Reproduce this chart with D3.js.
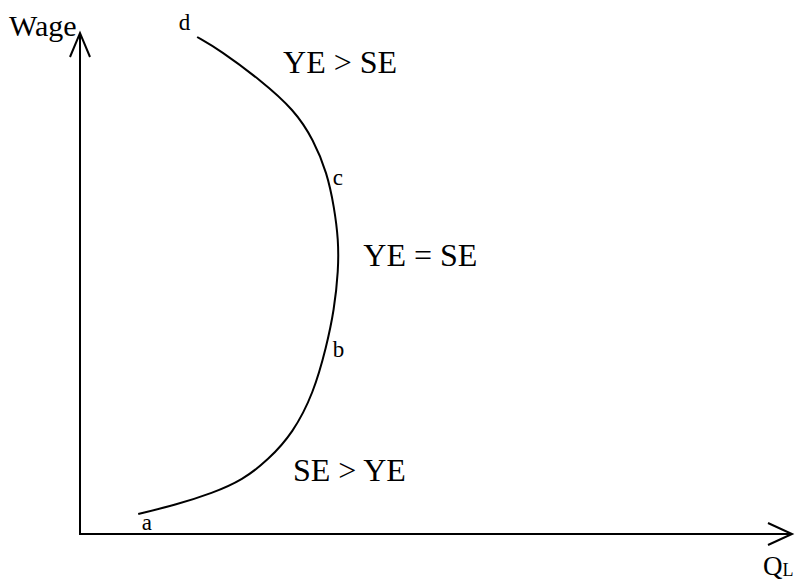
<!DOCTYPE html>
<html>
<head>
<meta charset="utf-8">
<script src="https://cdn.jsdelivr.net/npm/d3@7"></script>
<style>
  body { margin: 0; background: #fff; }
  text { font-family: "Liberation Serif", "Times New Roman", serif; fill: #000; }
</style>
</head>
<body>
<svg id="chart" width="798" height="580"></svg>
<script>
// supply curve (quantity of labour, wage)
var qlVals   = [8.2, 13.4, 18.7, 22.9, 26.5, 30.0, 32.9, 34.7, 35.8, 36.4, 36.4, 35.8, 34.8, 32.9, 30.2, 25.4, 19.7, 16.5];
var wageVals = [4.0, 5.8, 8.2, 10.8, 14.8, 20.2, 28.2, 37.4, 44.8, 52.8, 58.8, 65.4, 72.2, 78.8, 84.8, 90.8, 96.8, 99.4];

// point labels on the curve
var pointNames = ["a", "b", "c", "d"];
var pointQl    = [8.7, 35.6, 35.6, 13.9];
var pointWage  = [0.8, 35.4, 69.8, 100.8];

// region notes
var noteTexts = ["YE > SE", "YE = SE", "SE > YE"];
var noteQl    = [28.6, 39.9, 30.0];
var noteWage  = [92.2, 53.6, 10.6];

var svg = d3.select("#chart");

var x = d3.scaleLinear().domain([0, 100]).range([80, 790]);
var y = d3.scaleLinear().domain([0, 100]).range([534, 34]);

var x0 = x(0), y0 = y(0);

// axes (plain lines with open arrow heads)
var axes = svg.append("g")
    .attr("fill", "none")
    .attr("stroke", "#000")
    .attr("stroke-width", 2);

axes.append("line")
    .attr("x1", x0).attr("y1", y0)
    .attr("x2", x0).attr("y2", y(100) - 1);
axes.append("line")
    .attr("x1", x0 - 1).attr("y1", y0)
    .attr("x2", x(100) + 2).attr("y2", y0);

axes.append("polyline")
    .attr("points", [[x0 - 10, y(100) + 23], [x0, y(100) - 1], [x0 + 10, y(100) + 23]].join(" "));
axes.append("polyline")
    .attr("points", [[x(100) - 22, y0 - 11], [x(100) + 2, y0], [x(100) - 22, y0 + 11]].join(" "));

// axis titles
svg.append("text")
    .attr("x", 9)
    .attr("y", 36)
    .attr("font-size", 30)
    .text("Wage");

var qt = svg.append("text")
    .attr("x", 763)
    .attr("y", 575)
    .attr("font-size", 27);
qt.append("tspan").text("Q");
qt.append("tspan").attr("font-size", 18).attr("dy", 1).text("L");

// the curve
var pts = qlVals.map(function (d, i) { return [d, wageVals[i]]; });

var line = d3.line()
    .x(function (d) { return x(d[0]); })
    .y(function (d) { return y(d[1]); })
    .curve(d3.curveBasis);

svg.append("path")
    .datum(pts)
    .attr("d", line)
    .attr("fill", "none")
    .attr("stroke", "#000")
    .attr("stroke-width", 2);

// labels a..d
svg.selectAll(".pt")
    .data(pointNames)
    .enter().append("text")
    .attr("class", "pt")
    .attr("x", function (d, i) { return x(pointQl[i]); })
    .attr("y", function (d, i) { return y(pointWage[i]); })
    .attr("font-size", 23)
    .text(function (d) { return d; });

// notes
svg.selectAll(".note")
    .data(noteTexts)
    .enter().append("text")
    .attr("class", "note")
    .attr("x", function (d, i) { return x(noteQl[i]); })
    .attr("y", function (d, i) { return y(noteWage[i]); })
    .attr("font-size", 32)
    .text(function (d) { return d; });
</script>
</body>
</html>
